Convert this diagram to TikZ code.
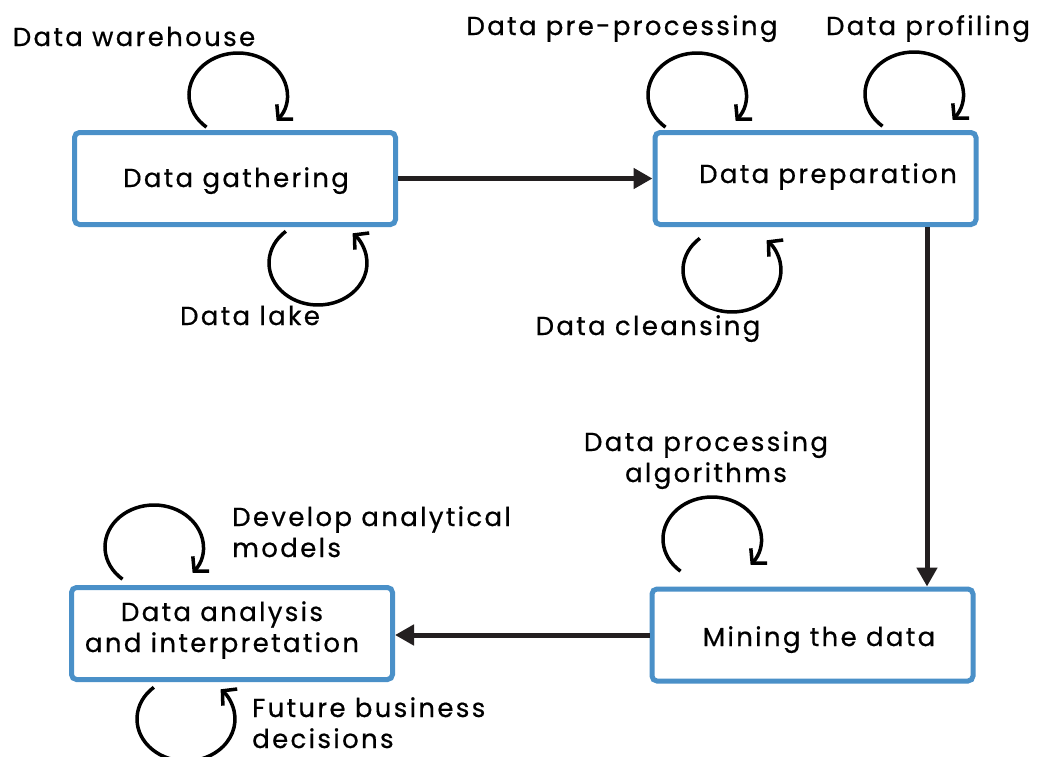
\documentclass[tikz,border=0pt]{standalone}
\usepackage{fontspec}
\setmainfont{Poppins}[LetterSpace=9, FakeBold=0.6]
\usetikzlibrary{arrows.meta}
\definecolor{boxblue}{RGB}{74,144,200}
\definecolor{arrowgray}{RGB}{35,31,32}
\begin{document}
\begin{tikzpicture}[x=1pt,y=-1pt,
  box/.style={draw=boxblue, line width=5pt, rounded corners=5pt, fill=white,
              minimum width=321pt, minimum height=92pt, inner sep=0pt},
  lbl/.style={font=\fontsize{26}{31}\selectfont, inner sep=0pt, anchor=base},
  flow/.style={draw=arrowgray, line width=5pt, -{Triangle[length=19pt,width=20pt]}},
  loopar/.style={draw=black, line width=3.5pt, -{Straight Barb[length=10pt,width=22pt]}}]
\useasboundingbox[fill=white] (0,0) rectangle (1037,756);

% boxes
\node[box] (gath) at (235,178.5) {};
\node[box] (prep) at (815.5,178.5) {};
\node[box] (mine) at (812.5,635) {};
\node[box] (anal) at (232,633.5) {};

% box texts
\node[lbl] (tgath) at (236,187) {Data gathering};
\node[lbl] (tprep) at (828,183) {Data preparation};
\node[lbl] (tmine) at (819,646) {Mining the data};
\node[lbl, align=center] (tanal) at (222,652) {Data analysis\\and interpretation};

% flow connectors
\coordinate (vx) at (927,0);
\draw[flow] (gath.east) -- (prep.west);
\draw[flow] (prep.south -| vx) -- (mine.north -| vx);
\draw[flow] (mine.west) -- (mine.west -| anal.east);

% loop centres
\coordinate (c1) at (238,95);
\coordinate (c2) at (697,95);
\coordinate (c3) at (914,94);
\coordinate (c4) at (712,539);
\coordinate (c5) at (154,547);
\coordinate (c6) at (318,263);
\coordinate (c7) at (732,270);
\coordinate (c8) at (186,719);

% loops above boxes
\foreach \c in {c1,c2,c3,c4,c5}
  \draw[loopar] (\c) ++(130:49 and 42) arc[start angle=130, end angle=398, x radius=49, y radius=42];
% loops below boxes
\foreach \c in {c6,c7,c8}
  \draw[loopar] (\c) ++(229:49 and 42) arc[start angle=229, end angle=-45, x radius=49, y radius=42];

% loop labels
\node[lbl] (lwh) at (134,46) {Data warehouse};
\node[lbl] (llake) at (250,325) {Data lake};
\node[lbl] (lpre) at (622,35) {Data pre-processing};
\node[lbl] (lprof) at (928,35) {Data profiling};
\node[lbl] (lclean) at (648,335) {Data cleansing};
\node[lbl, align=center] (lalg) at (706,482) {Data processing\\algorithms};
\node[lbl, align=left, anchor=base west] (ldev) at (232,557) {Develop analytical\\models};
\node[lbl, align=left, anchor=base west] (lfut) at (252,748) {Future business\\decisions};
\end{tikzpicture}
\end{document}
